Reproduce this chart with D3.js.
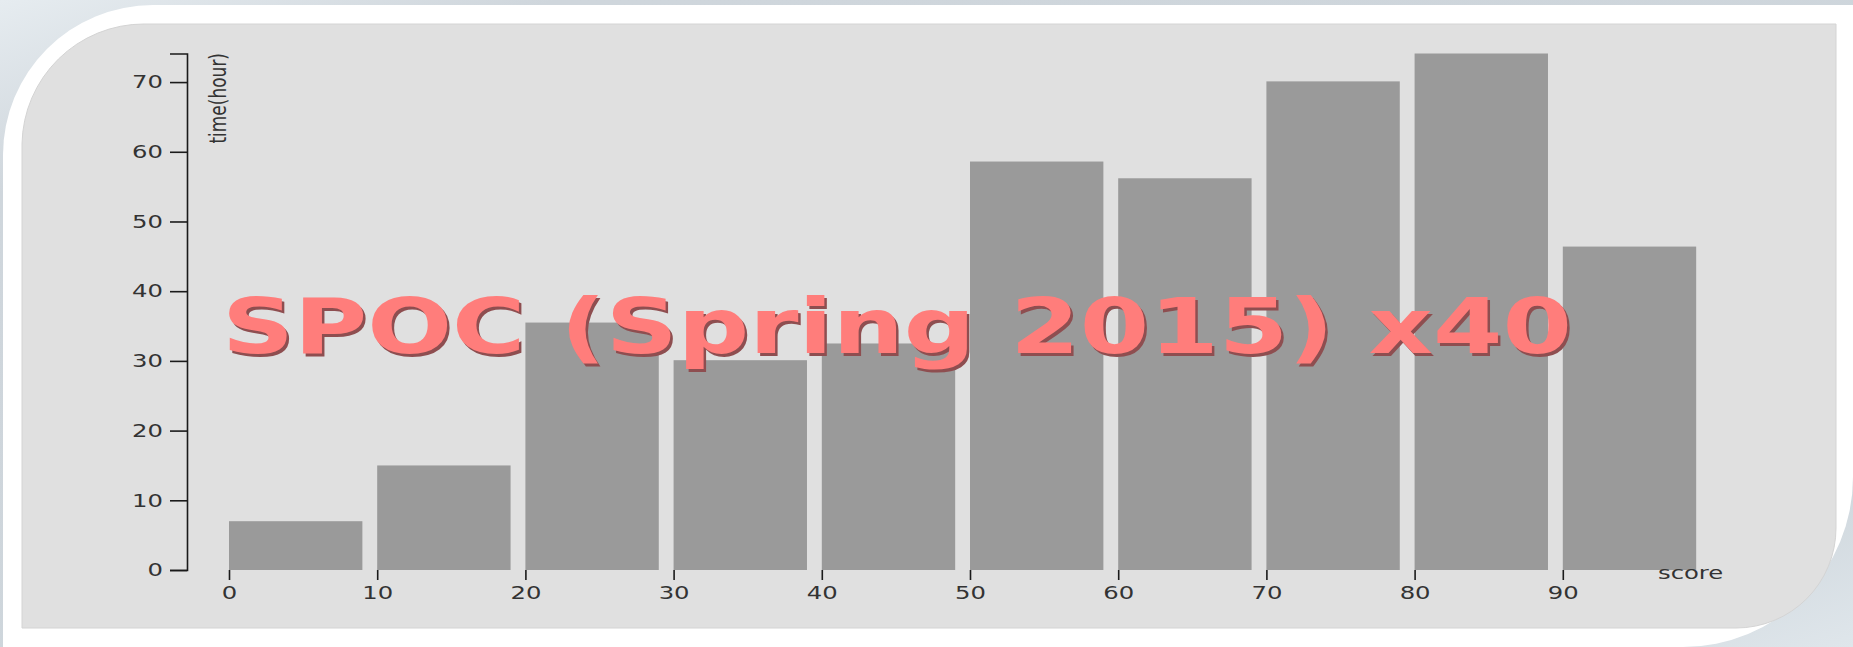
<!DOCTYPE html>
<html>
<head>
<meta charset="utf-8">
<script src="https://cdn.jsdelivr.net/npm/d3@7/dist/d3.min.js"></script>
<style>
  html, body { margin: 0; padding: 0; background: #cdd5db; overflow: hidden; }
  svg { display: block; }
</style>
</head>
<body>
<svg id="chart" width="1853" height="647"></svg>
<script>
// ---- data ----
const bins = [0, 10, 20, 30, 40, 50, 60, 70, 80, 90];
const hours = [7.0, 15.0, 35.5, 30.1, 32.5, 58.6, 56.2, 70.1, 74.1, 46.4];
const xTickValues = [0, 10, 20, 30, 40, 50, 60, 70, 80, 90];
const yTickValues = [0, 10, 20, 30, 40, 50, 60, 70];
const title = "SPOC (Spring 2015) x40";
const xLabel = "score";
const yLabel = "time(hour)";

const W = 1853, H = 647;
const svg = d3.select("#chart");
const defs = svg.append("defs");

// background gradient
const bg = defs.append("linearGradient").attr("id", "bgGrad")
  .attr("x1", "0").attr("y1", "0").attr("x2", "1").attr("y2", "1");
bg.append("stop").attr("offset", "0").attr("stop-color", "#e6ecf0");
bg.append("stop").attr("offset", "0.15").attr("stop-color", "#cfd6dc");
bg.append("stop").attr("offset", "0.85").attr("stop-color", "#cdd5db");
bg.append("stop").attr("offset", "1").attr("stop-color", "#dfe6eb");

svg.append("rect").attr("width", W).attr("height", H).attr("fill", "url(#bgGrad)");

// white frame
svg.append("path")
  .attr("d", "M3,155 A150,150 0 0 1 153,5 H1853 V477 A170,170 0 0 1 1683,647 H3 Z")
  .attr("fill", "#ffffff");

// inner grey panel
svg.append("path")
  .attr("d", "M22,144 A122,122 0 0 1 144,24 H1836 V528 A100,100 0 0 1 1736,628 H22 Z")
  .attr("fill", "#e0e0e0")
  .attr("stroke", "#d4d4d4")
  .attr("stroke-width", 1);

// ---- scales ----
const x = d3.scaleLinear().domain([0, 100]).range([229, 1711]);
const y = d3.scaleLinear().domain([0, d3.max(hours)]).range([570, 53.5]);
const binSpan = 9;
const stretch = 1.35;

// bars
svg.append("g").selectAll("rect")
  .data(bins.map((b, i) => ({ b, v: hours[i] })))
  .join("rect")
  .attr("x", d => x(d.b))
  .attr("width", d => x(d.b + binSpan) - x(d.b))
  .attr("y", d => y(d.v))
  .attr("height", d => y(0) - y(d.v))
  .attr("fill", "#9a9a9a");

// y axis
const yAxis = svg.append("g")
  .attr("transform", `translate(${x(0) - 42},0)`)
  .call(d3.axisLeft(y).tickValues(yTickValues).tickSize(17).tickPadding(7));
yAxis.select(".domain").attr("stroke", "#1a1a1a").attr("stroke-width", 1.6);
yAxis.selectAll(".tick line").attr("stroke", "#1a1a1a").attr("stroke-width", 1.6);
yAxis.selectAll(".tick text")
  .attr("font-family", "DejaVu Sans, Verdana, sans-serif")
  .attr("font-size", 18)
  .attr("fill", "#333")
  .attr("x", -24 / stretch)
  .attr("transform", `scale(${stretch},1)`);

// x axis
const xAxis = svg.append("g")
  .attr("transform", `translate(0,${y(0)})`)
  .call(d3.axisBottom(x).tickValues(xTickValues).tickSize(10).tickPadding(6));
xAxis.select(".domain").remove();
xAxis.selectAll(".tick line").attr("stroke", "#1a1a1a").attr("stroke-width", 1.6);
xAxis.selectAll(".tick text")
  .attr("font-family", "DejaVu Sans, Verdana, sans-serif")
  .attr("font-size", 18)
  .attr("fill", "#333")
  .attr("transform", `scale(${stretch},1)`)
  .each(function() {
    const t = d3.select(this.parentNode).attr("transform");
  });
// correct positions for stretched x labels: move ticks' text so center stays
xAxis.selectAll(".tick").each(function(d) {
  const g = d3.select(this);
  g.select("text").attr("x", 0);
});

// axis titles
svg.append("text")
  .attr("transform", `translate(1658,579) scale(${stretch},1)`)
  .attr("font-family", "DejaVu Sans, Verdana, sans-serif")
  .attr("font-size", 18)
  .attr("fill", "#333")
  .text(xLabel);

svg.append("text")
  .attr("transform", `translate(226,53) scale(${stretch},1) rotate(-90)`)
  .attr("text-anchor", "end")
  .attr("font-family", "DejaVu Sans, sans-serif")
  .attr("font-size", 17)
  .attr("fill", "#333")
  .text(yLabel);

// title overlay with shadow
const tg = svg.append("g");
[[2.5, 2.5, "#8e4e50"], [0, 0, "#ff7d7b"]].forEach(([dx, dy, c]) => {
  tg.append("text")
    .attr("x", 222 + dx)
    .attr("y", 353 + dy)
    .attr("font-family", "DejaVu Sans, sans-serif")
    .attr("font-weight", "bold")
    .attr("font-size", 77)
    .attr("textLength", 1350)
    .attr("lengthAdjust", "spacingAndGlyphs")
    .attr("fill", c)
    .text(title);
});
</script>
</body>
</html>
